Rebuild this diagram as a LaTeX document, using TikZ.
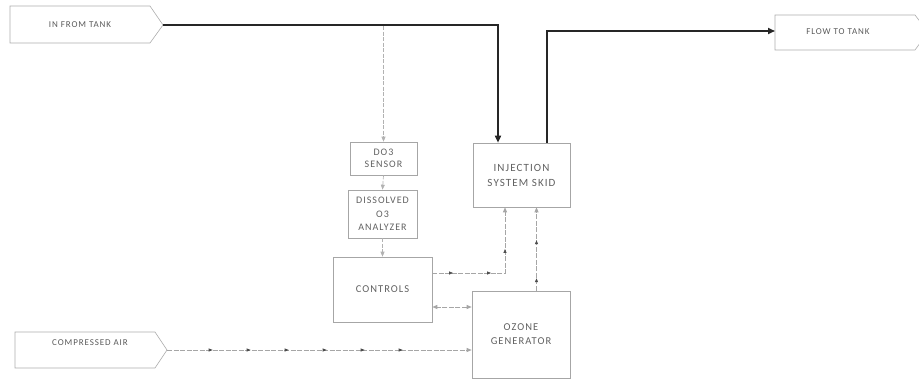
\documentclass[tikz,border=0pt]{standalone}
\usepackage{fontspec}
\setmainfont{Carlito}[LetterSpace=10]
\usetikzlibrary{arrows.meta,decorations.markings}
\begin{document}
\begin{tikzpicture}[x=1pt,y=-1pt,
  box/.style={draw=gray!70, line width=0.6pt, inner sep=2pt, align=center,
    font=\fontsize{10.5}{14}\selectfont, text=gray!75!black},
  tag/.style={draw=gray!65, line width=0.6pt},
  tagtext/.style={font=\fontsize{9}{11}\selectfont, text=gray!70!black},
  flow/.style={draw=black!85, line width=1.6pt, -{Triangle[length=7pt,width=6pt]}},
  ctrl/.style={draw=gray!70, line width=0.7pt, dash pattern=on 5pt off 1.5pt,
    -{Triangle[length=5pt,width=4pt]}},
  ctrlmid/.style={ctrl, postaction={decorate}, decoration={markings,
    mark=between positions 0.15 and 0.85 step 38pt with {\arrow[gray!60!black]{Triangle[length=4pt,width=3pt]}}}},
  sig/.style={draw=gray!60, line width=0.7pt, dash pattern=on 4pt off 1.5pt,
    -{Triangle[length=5pt,width=4pt]}}
]
\useasboundingbox (0,0) rectangle (919,381);

% tags (pentagon labels)
\draw[tag] (10,6) -- (150,6) -- (163,25) -- (150,43) -- (10,43) -- cycle;
\node[tagtext] (intxt) at (80,25) {IN FROM TANK};
\coordinate (inpt) at (163,25);

\draw[tag] (15,332) -- (155,332) -- (167,350) -- (155,368) -- (15,368) -- cycle;
\node[tagtext] (airtxt) at (90,343) {COMPRESSED AIR};
\coordinate (airpt) at (167,350);

\draw[tag] (775,15) -- (915,15) -- (928,32) -- (915,50) -- (775,50) -- cycle;
\node[tagtext] (outtxt) at (838,32) {FLOW TO TANK};
\coordinate (outpt) at (775,31);

% boxes
\node[box, minimum width=67pt, minimum height=33pt, font=\fontsize{10}{12}\selectfont] (sensor) at (383.5,158.5) {DO3\\SENSOR};
\node[box, minimum width=69pt, minimum height=48pt, font=\fontsize{10}{13.5}\selectfont] (analyzer) at (382.5,214) {DISSOLVED\\O3\\ANALYZER};
\node[box, minimum width=99pt, minimum height=65pt] (controls) at (382.5,289.5) {CONTROLS};
\node[box, minimum width=97pt, minimum height=64pt, font=\fontsize{11}{15}\selectfont] (inj) at (521.5,175) {INJECTION\\SYSTEM SKID};
\node[box, minimum width=98pt, minimum height=87pt] (ozone) at (521,334.5) {OZONE\\GENERATOR};

% main flow
\draw[flow] (inpt) -| ([xshift=-23.5pt]inj.north);
\draw[flow] ([xshift=25.5pt]inj.north) |- (outpt);

% sensor tap
\coordinate (tap) at (383.5,26);
\draw[sig] (tap) -- (sensor.north);
\draw[sig] (sensor.south) -- (analyzer.north);
\draw[sig] (analyzer.south) -- (controls.north);

% control lines
\coordinate (cbend) at (505,273);
\draw[ctrlmid] (controls.east |- cbend) -| ([xshift=-16.5pt]inj.south);
\draw[ctrlmid] ([xshift=15.5pt]ozone.north) -- ([xshift=15.5pt]ozone.north |- inj.south);
\draw[ctrl, {Triangle[length=5pt,width=4pt]}-{Triangle[length=5pt,width=4pt]}] (ozone.west |- 0,307) -- (controls.east |- 0,307);
\draw[ctrlmid] (airpt) -- (ozone.west |- airpt);
\end{tikzpicture}
\end{document}
